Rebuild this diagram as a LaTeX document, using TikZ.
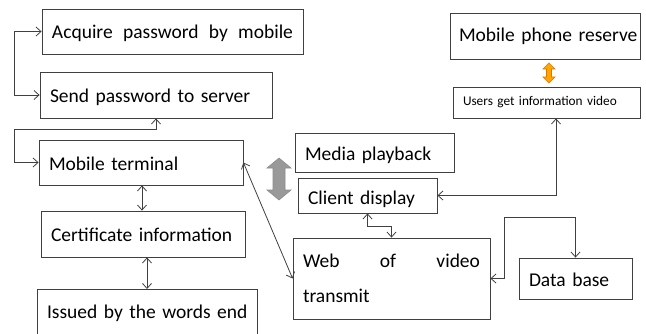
\documentclass[tikz,border=0pt]{standalone}
\usepackage{fontspec}
\setmainfont{Carlito}
\usepackage{tikz}
\usetikzlibrary{arrows.meta}

\tikzset{
  box/.style={draw=black!75, line width=0.8pt, rectangle, inner xsep=10pt, inner ysep=0pt,
              align=left, font=\fontsize{19.5}{23}\selectfont},
  link/.style={draw=black!75, line width=0.8pt, {Straight Barb[length=5pt,width=9pt]}-{Straight Barb[length=5pt,width=9pt]}}
}
\newcommand{\down}[2]{\raisebox{-#1}[\height][\depth]{#2}}

\begin{document}
\begin{tikzpicture}[x=1pt,y=-1pt]
                        \useasboundingbox (0,0) rectangle (646,333);
                        \begin{scope}
                        \clip (0,0) rectangle (646,333);
                        \node[box, minimum width=261, minimum height=45, text width=241] (acquire) at (172.5,31.5) {\down{2pt}{\hbox to 241pt{Acquire\hfill password\hfill by\hfill mobile}}};
                        \node[box, minimum width=232, minimum height=46, text width=212] (send) at (156,95) {\down{2pt}{Send password to server}};
                        \node[box, minimum width=204, minimum height=45, text width=184] (terminal) at (141,162.5) {\down{1pt}{Mobile terminal}};
                        \node[box, minimum width=204, minimum height=46, text width=184] (cert) at (143,234) {\down{1pt}{Certificate information}};
                        \node[box, minimum width=220, minimum height=48, text width=200, anchor=north] (issued) at (147,289) {\mbox{Issued by the words end}};
                        \node[box, minimum width=159, minimum height=39, text width=139] (media) at (374.5,152.5) {\down{3pt}{Media playback}};
                        \node[box, minimum width=139, minimum height=35, text width=119] (client) at (367.5,195.5) {\down{4pt}{Client display}};
                        \node[box, minimum width=197, minimum height=81, text width=177,
                              font=\fontsize{19.5}{35}\selectfont] (web) at (391.5,278.5) {Web\hfill of\hfill video\\transmit};
                        \node[box, minimum width=190, minimum height=46, text width=178, inner xsep=6pt] (reserve) at (545,36) {\hspace*{3pt}\mbox{Mobile phone reserve}};
                        \node[box, minimum width=187, minimum height=31, text width=167,
                              font=\fontsize{13.3}{16}\selectfont] (users) at (546.5,102.5) {Users get information video};
                        \node[box, minimum width=113, minimum height=41, text width=93] (database) at (575.5,278.5) {\down{1pt}{Data base}};
                        \end{scope}
                        \draw[link] (acquire.west) -- ++(-27,0) |- (send.west);
                        \draw[link] (terminal.west) -- ++(-24,0) -- ++(0,-33.5) -| (send.south);
                        \draw[link] ([xshift=1]terminal.south) -- ([xshift=1]terminal.south |- cert.north);
                        \draw[link] (issued.north |- cert.south) -- (issued.north);
                        \draw[link] (terminal.east) -- (web.west);
                        \draw[link] (client.south) -- ++(0,13) -| (web.north);
                        \draw[link] ([xshift=9.5]users.south) |- (client.east);
                        \draw[link] (web.east) -- ++(14,0) -- ++(0,-61) -| (database.north);
                        \draw[draw=black!45, fill=black!40, line width=0.6pt] (279,158) -- (291,168) -- (285,168) -- (285,190) -- (291,190) -- (279,200)
                              -- (267,190) -- (273,190) -- (273,168) -- (267,168) -- cycle;
                        \draw[draw=orange!90!black, fill=orange!70!yellow, line width=0.6pt] (549,63) -- (555,69) -- (551.5,69) -- (551.5,77) -- (555,77) -- (549,83)
                              -- (543,77) -- (546.5,77) -- (546.5,69) -- (543,69) -- cycle;
                  \end{tikzpicture}
\end{document}
